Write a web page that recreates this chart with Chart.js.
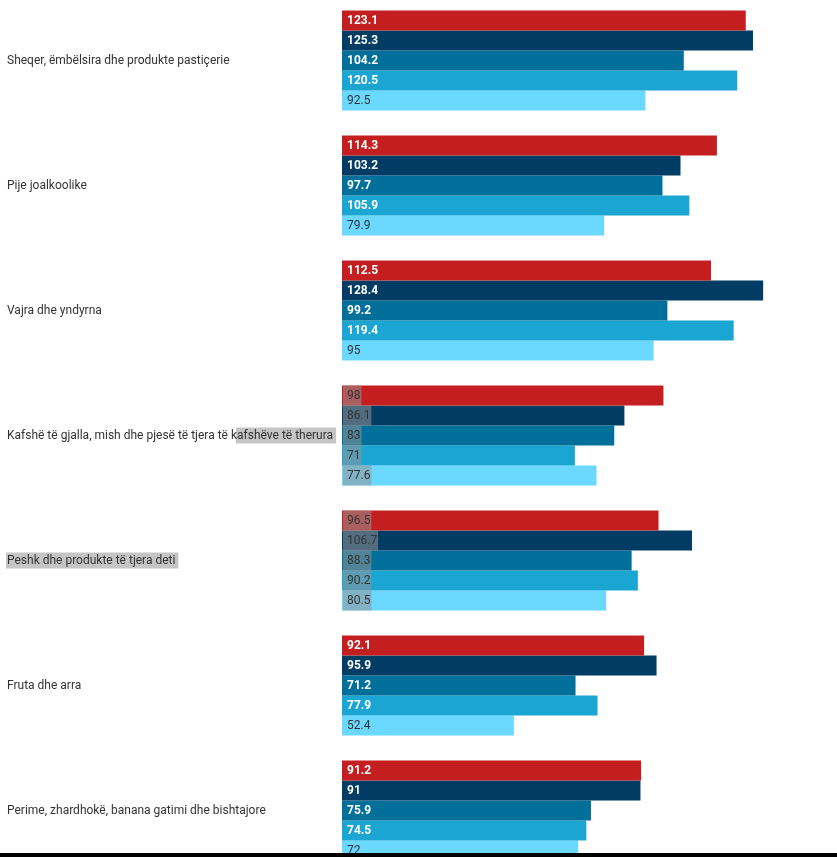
<!DOCTYPE html>
<html>
<head>
<meta charset="utf-8">
<script src="https://cdn.jsdelivr.net/npm/chart.js@4.4.0/dist/chart.umd.min.js"></script>
<style>
  html, body { margin: 0; padding: 0; background: #fff; overflow: hidden; width: 837px; height: 857px; }
  #wrap { position: absolute; left: 0; top: -2.5px; width: 837px; height: 875px; }
  #bottomline { position: absolute; left: 0; top: 853px; width: 837px; height: 4px; background: #000; }
</style>
</head>
<body>
<div id="wrap"><canvas id="c"></canvas></div>
<div id="bottomline"></div>
<script>
const categories = [
  "Sheqer, ëmbëlsira dhe produkte pastiçerie",
  "Pije joalkoolike",
  "Vajra dhe yndyrna",
  "Kafshë të gjalla, mish dhe pjesë të tjera të kafshëve të therura",
  "Peshk dhe produkte të tjera deti",
  "Fruta dhe arra",
  "Perime, zhardhokë, banana gatimi dhe bishtajore"
];
const series1 = [123.1, 114.3, 112.5, 98, 96.5, 92.1, 91.2];
const series2 = [125.3, 103.2, 128.4, 86.1, 106.7, 95.9, 91];
const series3 = [104.2, 97.7, 99.2, 83, 88.3, 71.2, 75.9];
const series4 = [120.5, 105.9, 119.4, 71, 90.2, 77.9, 74.5];
const series5 = [92.5, 79.9, 95, 77.6, 80.5, 52.4, 72];
const seriesNames = ["Seria 1", "Seria 2", "Seria 3", "Seria 4", "Seria 5"];
const colors = ["#c41e20", "#003c64", "#00709a", "#1aa5d2", "#6ad8ff"];
// categories whose text appears highlighted (selected) in the reference
const selectedCats = [3, 4];
// highlighted part of y labels: [categoryIndex, startCharIndex]
const selectedLabelParts = [[3, categories[3].indexOf("kafshëve") + 1], [4, 0]];

const FONT = "Roboto, 'Noto Sans', sans-serif";
const HL = "rgba(150,150,150,0.55)";

const valueLabels = {
  id: 'valueLabels',
  afterDatasetsDraw(chart) {
    const ctx = chart.ctx;
    ctx.save();
    ctx.textBaseline = 'middle';
    ctx.textAlign = 'left';
    chart.data.datasets.forEach((ds, di) => {
      const meta = chart.getDatasetMeta(di);
      meta.data.forEach((bar, i) => {
        const txt = String(ds.data[i]);
        const base = bar.base;
        const x = base + 5;
        const y = bar.y;
        const sel = selectedCats.includes(i);
        if (sel) {
          ctx.font = "400 12px " + FONT;
          const w = ctx.measureText(txt).width;
          ctx.fillStyle = HL;
          ctx.fillRect(base + 1, y - bar.height / 2, x + w + 1 - (base + 1), bar.height);
          ctx.fillStyle = "#333";
        } else if (di < 4) {
          ctx.font = "700 12px " + FONT;
          ctx.fillStyle = "#ffffff";
        } else {
          ctx.font = "400 12px " + FONT;
          ctx.fillStyle = "#333";
        }
        ctx.fillText(txt, x, y + 0.5);
      });
    });
    ctx.restore();
  },
  beforeDraw(chart) {
    const ctx = chart.ctx;
    const ys = chart.scales.y;
    ctx.save();
    ctx.font = "400 12px " + FONT;
    selectedLabelParts.forEach(([ci, start]) => {
      const label = categories[ci];
      const pre = ctx.measureText(label.slice(0, start)).width;
      const full = ctx.measureText(label + " ").width;
      const y = ys.getPixelForTick(ci);
      const x0 = ys.left;
      ctx.fillStyle = HL;
      ctx.fillRect(x0 + pre - 1, y - 8, full - pre + 1, 16);
    });
    ctx.restore();
  }
};

const datasets = [series1, series2, series3, series4, series5].map((d, k) => ({
  label: seriesNames[k],
  data: d,
  backgroundColor: colors[k],
  borderWidth: 0,
  barPercentage: 1.0,
  categoryPercentage: 0.8
}));

new Chart(document.getElementById('c'), {
  type: 'bar',
  data: { labels: categories, datasets },
  plugins: [valueLabels],
  options: {
    indexAxis: 'y',
    responsive: true,
    maintainAspectRatio: false,
    animation: false,
    layout: { padding: { left: 7, right: 3, top: 0, bottom: 0 } },
    plugins: { legend: { display: false }, tooltip: { enabled: false } },
    scales: {
      x: { display: false, min: 0, max: 150 },
      y: {
        grid: { display: false, drawTicks: false },
        border: { display: false },
        afterFit(scale) { scale.width = 335; scale.paddingTop = 0; scale.paddingBottom = 0; },
        ticks: {
          crossAlign: 'far',
          color: '#333',
          font: { family: FONT, size: 12, weight: '400' },
          padding: 0
        }
      }
    }
  }
});
</script>
</body>
</html>
